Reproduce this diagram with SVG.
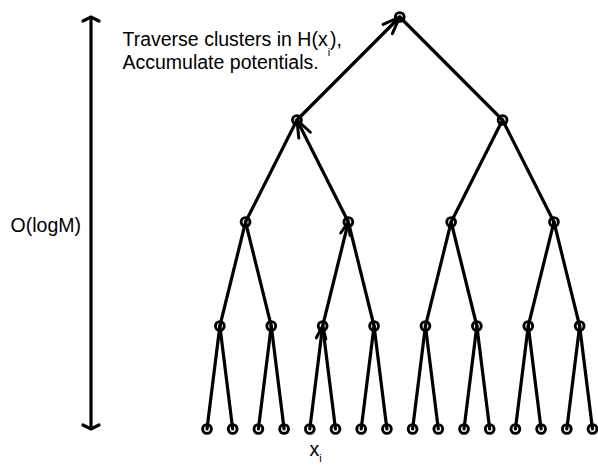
<svg xmlns="http://www.w3.org/2000/svg" width="598" height="465" viewBox="0 0 598 465">
<style>
.e{stroke:#000;stroke-width:3.2;fill:none;stroke-linecap:round}
.n{stroke:#000;stroke-width:2.9;fill:none}
.t{font-family:"Liberation Sans",Arial,sans-serif;font-size:19.5px;fill:#000}
.s{font-size:11px}
</style>
<defs>
<marker id="aL" markerUnits="userSpaceOnUse" viewBox="-22 -12 24 24" markerWidth="24" markerHeight="24" refX="0" refY="0" orient="auto" overflow="visible">
<path d="M-17,-6.5 L0,0 L-17,6.5" stroke="#000" stroke-width="3" fill="none" stroke-linecap="round" stroke-linejoin="round"/>
</marker>
<marker id="aS" markerUnits="userSpaceOnUse" viewBox="-22 -12 24 24" markerWidth="24" markerHeight="24" refX="0" refY="0" orient="auto" overflow="visible">
<path d="M-12.5,-4.8 L0,0 L-12.5,4.8" stroke="#000" stroke-width="3" fill="none" stroke-linecap="round" stroke-linejoin="round"/>
</marker>
</defs>
<rect width="598" height="465" fill="#fff"/>
<g id="scale-bar">
<line class="e" x1="91" y1="18" x2="91" y2="428"/>
<path class="e" d="M83,21 L91,17 L99,21"/>
<path class="e" d="M83,425 L91,429 L99,425"/>
</g>
<g id="connectors">
<line class="e" x1="296.95" y1="120" x2="399.75" y2="17" marker-end="url(#aL)"/>
<line class="e" x1="399.75" y1="17" x2="502.55" y2="120"/>
<line class="e" x1="296.95" y1="120" x2="245.55" y2="222"/>
<line class="e" x1="348.35" y1="222" x2="296.95" y2="120" marker-end="url(#aL)"/>
<line class="e" x1="502.55" y1="120" x2="451.15" y2="222"/>
<line class="e" x1="502.55" y1="120" x2="553.95" y2="222"/>
<line class="e" x1="245.55" y1="222" x2="219.85" y2="326"/>
<line class="e" x1="245.55" y1="222" x2="271.25" y2="326"/>
<line class="e" x1="322.65" y1="326" x2="348.35" y2="222" marker-end="url(#aS)"/>
<line class="e" x1="348.35" y1="222" x2="374.05" y2="326"/>
<line class="e" x1="451.15" y1="222" x2="425.45" y2="326"/>
<line class="e" x1="451.15" y1="222" x2="476.85" y2="326"/>
<line class="e" x1="553.95" y1="222" x2="528.25" y2="326"/>
<line class="e" x1="553.95" y1="222" x2="579.65" y2="326"/>
<line class="e" x1="219.85" y1="326" x2="207" y2="429"/>
<line class="e" x1="219.85" y1="326" x2="232.7" y2="429"/>
<line class="e" x1="271.25" y1="326" x2="258.4" y2="429"/>
<line class="e" x1="271.25" y1="326" x2="284.1" y2="429"/>
<line class="e" x1="309.8" y1="429" x2="322.65" y2="326" marker-end="url(#aS)"/>
<line class="e" x1="322.65" y1="326" x2="335.5" y2="429"/>
<line class="e" x1="374.05" y1="326" x2="361.2" y2="429"/>
<line class="e" x1="374.05" y1="326" x2="386.9" y2="429"/>
<line class="e" x1="425.45" y1="326" x2="412.6" y2="429"/>
<line class="e" x1="425.45" y1="326" x2="438.3" y2="429"/>
<line class="e" x1="476.85" y1="326" x2="464" y2="429"/>
<line class="e" x1="476.85" y1="326" x2="489.7" y2="429"/>
<line class="e" x1="528.25" y1="326" x2="515.4" y2="429"/>
<line class="e" x1="528.25" y1="326" x2="541.1" y2="429"/>
<line class="e" x1="579.65" y1="326" x2="566.8" y2="429"/>
<line class="e" x1="579.65" y1="326" x2="592.5" y2="429"/>
</g>
<g id="root"><circle class="n" cx="399.75" cy="17" r="4.4"/></g>
<g id="n1a"><circle class="n" cx="296.95" cy="120" r="4.4"/></g>
<g id="n1b"><circle class="n" cx="502.55" cy="120" r="4.4"/></g>
<g id="n2a"><circle class="n" cx="245.55" cy="222" r="4.4"/></g>
<g id="n2b"><circle class="n" cx="348.35" cy="222" r="4.4"/></g>
<g id="n2c"><circle class="n" cx="451.15" cy="222" r="4.4"/></g>
<g id="n2d"><circle class="n" cx="553.95" cy="222" r="4.4"/></g>
<g id="n3a"><circle class="n" cx="219.85" cy="326" r="4.4"/></g>
<g id="n3b"><circle class="n" cx="271.25" cy="326" r="4.4"/></g>
<g id="n3c"><circle class="n" cx="322.65" cy="326" r="4.4"/></g>
<g id="n3d"><circle class="n" cx="374.05" cy="326" r="4.4"/></g>
<g id="n3e"><circle class="n" cx="425.45" cy="326" r="4.4"/></g>
<g id="n3f"><circle class="n" cx="476.85" cy="326" r="4.4"/></g>
<g id="n3g"><circle class="n" cx="528.25" cy="326" r="4.4"/></g>
<g id="n3h"><circle class="n" cx="579.65" cy="326" r="4.4"/></g>
<g id="leaf0"><circle class="n" cx="207" cy="429" r="4.4"/></g>
<g id="leaf1"><circle class="n" cx="232.7" cy="429" r="4.4"/></g>
<g id="leaf2"><circle class="n" cx="258.4" cy="429" r="4.4"/></g>
<g id="leaf3"><circle class="n" cx="284.1" cy="429" r="4.4"/></g>
<g id="leaf4"><circle class="n" cx="309.8" cy="429" r="4.4"/></g>
<g id="leaf5"><circle class="n" cx="335.5" cy="429" r="4.4"/></g>
<g id="leaf6"><circle class="n" cx="361.2" cy="429" r="4.4"/></g>
<g id="leaf7"><circle class="n" cx="386.9" cy="429" r="4.4"/></g>
<g id="leaf8"><circle class="n" cx="412.6" cy="429" r="4.4"/></g>
<g id="leaf9"><circle class="n" cx="438.3" cy="429" r="4.4"/></g>
<g id="leaf10"><circle class="n" cx="464" cy="429" r="4.4"/></g>
<g id="leaf11"><circle class="n" cx="489.7" cy="429" r="4.4"/></g>
<g id="leaf12"><circle class="n" cx="515.4" cy="429" r="4.4"/></g>
<g id="leaf13"><circle class="n" cx="541.1" cy="429" r="4.4"/></g>
<g id="leaf14"><circle class="n" cx="566.8" cy="429" r="4.4"/></g>
<g id="leaf15"><circle class="n" cx="592.5" cy="429" r="4.4"/></g>
<g id="labels">
<text class="t" x="122.5" y="45.5">Traverse clusters in H(x<tspan class="s" dy="10">i</tspan><tspan dy="-10">),</tspan></text>
<text class="t" x="122.5" y="68.8">Accumulate potentials.</text>
<text class="t" x="81" y="232" text-anchor="end">O(logM)</text>
<text class="t" x="309.5" y="456">x<tspan class="s" dy="6">i</tspan></text>
</g>
</svg>
